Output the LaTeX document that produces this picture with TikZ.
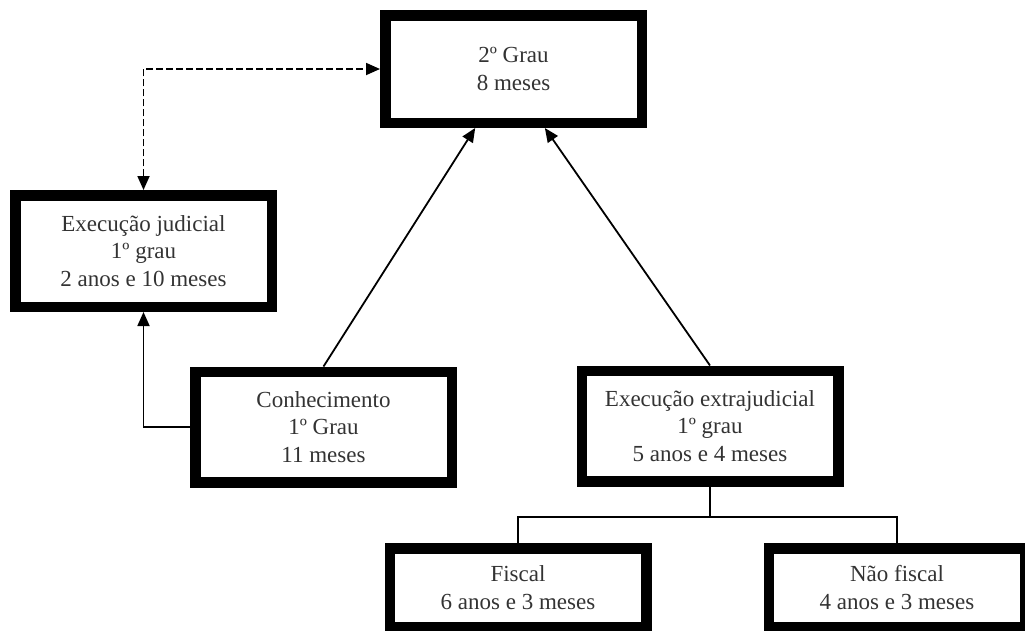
\documentclass[tikz,border=0pt]{standalone}
\usepackage{fontspec}
\setmainfont{Liberation Serif}
\usetikzlibrary{arrows.meta}

\begin{document}
\begin{tikzpicture}[x=1pt,y=-1pt,
    box/.style={draw, line width=10.5pt, align=center, inner sep=0pt, minimum width=256.5pt, text=black!80, font=\fontsize{23}{27.5}\selectfont},
    link/.style={line width=1.8pt, -{Triangle[length=14pt,width=12pt]}},
    dlink/.style={line width=1.8pt, dash pattern=on 7pt off 3pt, {Triangle[length=14pt,width=12pt]}-{Triangle[length=14pt,width=12pt]}},
    bus/.style={line width=1.8pt}]
            % pixel coordinates, y runs downwards
            \useasboundingbox (0,0) rectangle (1025,630);
            \node[box, minimum height=107.5pt] (grau2) at (513.5,69) {2º Grau\\8 meses};
            \node[box, minimum height=111.5pt] (execjud) at (143.5,251) {Execução judicial\\1º grau\\2 anos e 10 meses};
            \node[box, minimum height=110.5pt] (conhec) at (323.5,427) {Conhecimento\\1º Grau\\11 meses};
            \node[box, minimum height=110.5pt] (execext) at (710,426) {Execução extrajudicial\\1º grau\\5 anos e 4 meses};
            \node[box, minimum height=78.5pt] (fiscal) at (518,587.5) {Fiscal\\6 anos e 3 meses};
            \node[box, minimum height=78.5pt] (naofiscal) at (897,587.5) {Não fiscal\\4 anos e 3 meses};
            \coordinate (split) at (710,517);
            \draw[dlink] (execjud.north) |- (grau2.west);
            \draw[link] (conhec.west) -| (execjud.south);
            \draw[link] (conhec.north) -- (grau2.237);
            \draw[link] (execext.north) -- (grau2.298);
            \draw[bus] (execext.south) -- (split);
            \draw[bus] (fiscal.north) |- (split) -| (naofiscal.north);
        \end{tikzpicture}
\end{document}
